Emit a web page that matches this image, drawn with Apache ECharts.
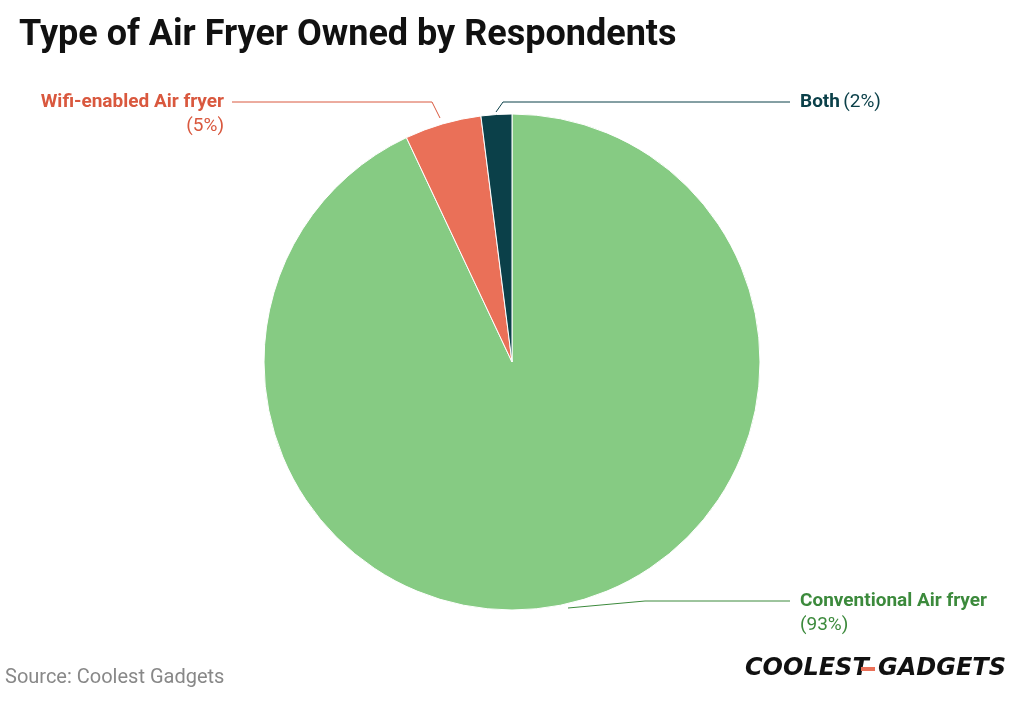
<!DOCTYPE html><html><head><meta charset="utf-8"><script src="https://cdn.jsdelivr.net/npm/echarts@6/dist/echarts.min.js"></script></head><body style="margin:0"><div id="c" style="width:1024px;height:707px"></div><script>
const categories=["Conventional Air fryer","Wifi-enabled Air fryer","Both"];
const values=[93,5,2];
const colors=["#86cb83","#ea7058","#0b4049"];
const textColors=["#3c8a3c","#d9583e","#0b4049"];
const chart=echarts.init(document.getElementById('c'));
chart.setOption({
 title:{text:"Type of Air Fryer Owned by Respondents",left:14,top:13,textStyle:{fontFamily:"Roboto",fontWeight:"bold",fontSize:36,color:"#111"}},
 graphic:[
  {type:'text',left:5,top:668,style:{text:"Source: Coolest Gadgets",font:"20px Roboto",fill:"#888"}},
  {type:'text',left:745,top:657,style:{text:"COOLEST",font:"italic 900 24px 'DejaVu Sans'",fill:"#111"}},
  {type:'rect',shape:{x:861,y:667,width:14,height:4},style:{fill:"#ea7058"}},
  {type:'text',left:878,top:657,style:{text:"GADGETS",font:"italic 900 24px 'DejaVu Sans'",fill:"#111"}}
 ],
 series:[{type:'pie',center:[512,362],radius:248,startAngle:90,clockwise:true,animation:false,
  data:categories.map((n,i)=>({name:n,value:values[i],itemStyle:{color:colors[i]},
   label:{color:textColors[i],align:i==1?'right':'left',rich:{b:{fontWeight:'bold',fontSize:19,color:textColors[i],fontFamily:'Roboto'},n:{fontSize:19,color:textColors[i],fontFamily:'Roboto'}},
    formatter:i==2?'{b|'+n+'} {n|('+values[i]+'%)}':'{b|'+n+'}\n{n|('+values[i]+'%)}'},
   labelLine:{lineStyle:{color:textColors[i]}}})),
  label:{lineHeight:24},
  labelLine:{length:15,length2:60},
  labelLayout:function(p){
   const i=p.dataIndex;
   if(i==1){return {x:224,y:114,align:'right',verticalAlign:'middle',labelLinePoints:[[440,118],[432,102],[232,102]]};}
   if(i==2){return {x:800,y:102,align:'left',verticalAlign:'middle',labelLinePoints:[[496,112],[503,102],[790,102]]};}
   return {x:800,y:613,align:'left',verticalAlign:'middle',labelLinePoints:[[568,608],[645,601],[790,601]]};
  },
  itemStyle:{borderColor:'#fff',borderWidth:1}
 }]
});
</script></body></html>
